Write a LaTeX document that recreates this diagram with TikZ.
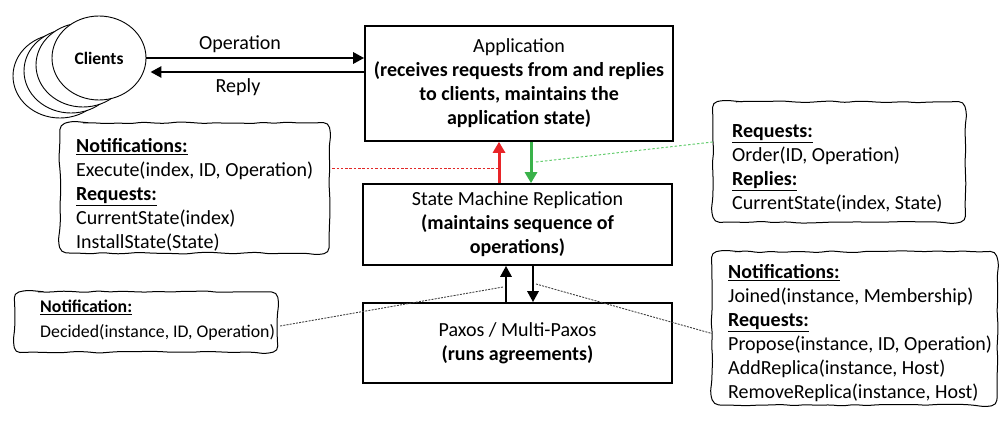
\documentclass[tikz,border=0pt]{standalone}
\usepackage{fontspec}
\setmainfont{Carlito}
\usetikzlibrary{arrows.meta,decorations.pathmorphing,shapes.geometric,calc}
\definecolor{arrred}{RGB}{232,36,40}
\definecolor{arrgreen}{RGB}{58,178,74}
\definecolor{dotgreen}{RGB}{100,205,110}
\definecolor{dotred}{RGB}{225,40,40}
\newcommand\wavyframe[1]{%
  \draw[wavyline]
    ($(#1.north west)+(18,0)$) -- ($(#1.north east)+(-18,0)$)
    .. controls ($(#1.north east)+(-8,0)$) and ($(#1.north east)+(0,8)$) .. ($(#1.north east)+(0,18)$)
    -- ($(#1.south east)+(0,-18)$)
    .. controls ($(#1.south east)+(0,-8)$) and ($(#1.south east)+(-8,0)$) .. ($(#1.south east)+(-18,0)$)
    -- ($(#1.south west)+(18,0)$)
    .. controls ($(#1.south west)+(8,0)$) and ($(#1.south west)+(0,-8)$) .. ($(#1.south west)+(0,-18)$)
    -- ($(#1.north west)+(0,18)$)
    .. controls ($(#1.north west)+(0,8)$) and ($(#1.north west)+(8,0)$) .. ($(#1.north west)+(18,0)$)
    -- cycle;}
\begin{document}
\begin{tikzpicture}[x=1pt,y=-1pt,
  txt/.style={font=\fontsize{20}{24}\selectfont},
  mainbox/.style={draw, line width=1.6pt, fill=white, align=center, inner sep=0pt, shape=rectangle, txt},
  geo/.style={inner sep=0pt, shape=rectangle},
  callouttext/.style={txt, align=left, inner sep=0pt, anchor=north west},
  wavyline/.style={draw, line width=1pt, decorate, decoration={random steps, segment length=12pt, amplitude=1pt}, rounded corners=5pt},
  client/.style={draw, ellipse, fill=white, line width=0.9pt, minimum width=94pt, minimum height=84pt, inner sep=0pt},
  blk/.style={line width=2.8pt, -{Triangle[length=11pt,width=11pt]}},
  redarr/.style={arrred, line width=3pt, -{Triangle[length=11pt,width=12pt]}},
  greenarr/.style={arrgreen, line width=3pt, -{Triangle[length=11pt,width=12pt]}},
  reddot/.style={dotred, line width=1pt, dash pattern=on 2.5pt off 1.8pt},
  greendot/.style={dotgreen, line width=1pt, dash pattern=on 2.5pt off 2pt},
  graydot/.style={black!75, line width=0.9pt, dash pattern=on 2pt off 1.2pt}
]
\pgfmathsetseed{5}
\useasboundingbox (0,0) rectangle (1007,422);

% clients
\node[client] (c3) at (60,76) {};
\node[client] (c2) at (71,71) {};
\node[client] (c1) at (83,65) {};
\node[client, font=\fontsize{17.5}{20}\selectfont\bfseries] (clients) at (99,58) {Clients};

% callout frames
\node[geo, minimum width=269pt, minimum height=130pt] (cbA) at (194.5,188) {};
\node[geo, minimum width=252pt, minimum height=120pt] (cbB) at (839,162) {};
\node[geo, minimum width=262pt, minimum height=60pt] (cbC) at (146,322) {};
\node[geo, minimum width=285pt, minimum height=153pt] (cbD) at (854.5,328.5) {};
\wavyframe{cbA}
\wavyframe{cbB}
\wavyframe{cbC}
\wavyframe{cbD}

% main boxes
\node[mainbox, minimum width=308pt, minimum height=115pt] (app) at (519,83.5)
  {Application\\\textbf{(receives requests from and replies}\\\textbf{to clients, maintains the}\\\textbf{application state)}};
\node[mainbox, minimum width=309pt, minimum height=81pt] (smr) at (517.5,224.5)
  {State Machine Replication\\\textbf{(maintains sequence of}\\\textbf{operations)}};
\node[mainbox, minimum width=309pt, minimum height=80pt] (paxos) at (517.5,343)
  {Paxos / Multi-Paxos\\\textbf{(runs agreements)}};

% client arrows
\draw[blk] (clients.east) -- (app.west |- clients.east);
\draw[blk] ([yshift=11.5pt]app.west) -- ([yshift=11.5pt,xshift=4pt]app.west -| clients.east);
\node[txt] (oplabel) at (240,44) {Operation};
\node[txt] (replylabel) at (238,87) {Reply};

% vertical arrows
\draw[redarr] ([xshift=-18.5pt]smr.north) -- ([xshift=-18.5pt]smr.north |- app.south);
\draw[greenarr] ([xshift=13.5pt]smr.north |- app.south) -- ([xshift=13.5pt]smr.north);
\draw[blk] ([xshift=-11.5pt]smr.south |- paxos.north) -- ([xshift=-11.5pt]smr.south);
\draw[blk] ([xshift=15.5pt]smr.south) -- ([xshift=15.5pt]smr.south |- paxos.north);

% connector coordinates on arrows
\coordinate (redpt) at (499,169);
\coordinate (greenpt) at (536,162);
\coordinate (uppt) at (503,287);
\coordinate (downpt) at (536,284);

% dotted connectors
\draw[reddot] ([xshift=3pt]cbA.east |- redpt) -- (redpt);
\draw[greendot] (greenpt) -- ([yshift=20pt]cbB.west);
\draw[graydot] ([xshift=3pt,yshift=-4pt]cbC.east) -- (uppt);
\draw[graydot] (downpt) -- ([yshift=-5pt]cbD.west);

% callout texts
\node[callouttext] (ctA) at (76,138)
  {\underline{\textbf{Notifications:}}\\Execute(index, ID, Operation)\\\underline{\textbf{Requests:}}\\CurrentState(index)\\InstallState(State)};
\node[callouttext] (ctB) at (732,124)
  {\underline{\textbf{Requests:}}\\Order(ID, Operation)\\\underline{\textbf{Replies:}}\\CurrentState(index, State)};
\node[callouttext, font=\fontsize{17.8}{25}\selectfont] (ctC) at (40,300)
  {\underline{\textbf{Notification:}}\\Decided(instance, ID, Operation)};
\node[callouttext] (ctD) at (728,264)
  {\underline{\textbf{Notifications:}}\\Joined(instance, Membership)\\\underline{\textbf{Requests:}}\\Propose(instance, ID, Operation)\\AddReplica(instance, Host)\\RemoveReplica(instance, Host)};
\end{tikzpicture}
\end{document}
